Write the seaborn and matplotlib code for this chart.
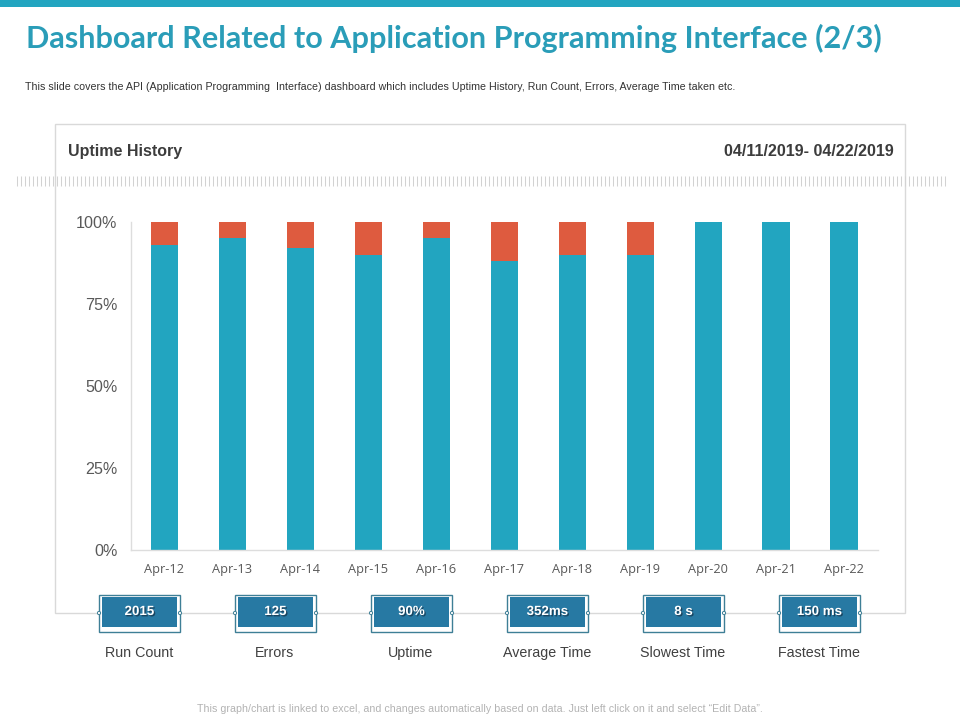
import numpy as np
import pandas as pd
import matplotlib
matplotlib.use("Agg")
import matplotlib.pyplot as plt
from matplotlib.patches import Rectangle, Circle
import matplotlib.patheffects as pe
import seaborn as sns

days = ["Apr-12", "Apr-13", "Apr-14", "Apr-15", "Apr-16", "Apr-17", "Apr-18", "Apr-19", "Apr-20", "Apr-21", "Apr-22"]
uptime = [93, 95, 92, 90, 95, 88, 90, 90, 100, 100, 100]
errors = [7, 5, 8, 10, 5, 12, 10, 10, 0, 0, 0]
y_ticks = [0, 25, 50, 75, 100]
kpi_values = ["2015", "125", "90%", "352ms", "8 s", "150 ms"]
kpi_names = ["Run Count", "Errors", "Uptime", "Average Time", "Slowest Time", "Fastest Time"]

TEAL = "#22A5C0"
RED = "#DE5B3F"
BOX = "#2779A3"
W, H = 960, 720

sns.set_theme(style="white")
plt.rcParams["font.family"] = ["Liberation Sans", "DejaVu Sans"]

fig = plt.figure(figsize=(9.6, 7.2), dpi=100, facecolor="white")

# page layer in pixel coordinates
bg = fig.add_axes([0, 0, 1, 1], zorder=0)
bg.set_xlim(0, W); bg.set_ylim(H, 0); bg.axis("off")

bg.add_patch(Rectangle((0, 0), W, 7, fc=TEAL, ec="none"))
bg.text(26, 38, "Dashboard Related to Application Programming Interface (2/3)",
        fontsize=22.05, family="Lato", fontweight="bold", color="#2A9DB8", va="center", ha="left")
bg.text(25, 86.5, "This slide covers the API (Application Programming  Interface) dashboard which includes Uptime History, Run Count, Errors, Average Time taken etc.",
        fontsize=7.65, color="#333333", va="center", ha="left")

# card frame
bg.add_patch(Rectangle((55, 124), 850, 489, fc="none", ec="#D9D9D9", lw=1))
bg.text(68, 151.5, "Uptime History", fontsize=11.5, fontweight="bold", color="#3C3C3C", va="center")
bg.text(894, 151.5, "04/11/2019- 04/22/2019", fontsize=11.5, fontweight="bold", color="#3C3C3C", va="center", ha="right")

# hatched divider
bg.vlines(np.arange(16.5, 946, 4), 176, 186, color="#D2D2D2", lw=0.75)

# chart
x0, x1, ytop, ybot = 130.5, 878, 222, 550
ax = fig.add_axes([x0 / W, 1 - ybot / H, (x1 - x0) / W, (ybot - ytop) / H], zorder=2)
ax.patch.set_alpha(0)
df = pd.DataFrame({"day": days, "uptime": uptime, "errors": errors})
df["total"] = df["uptime"] + df["errors"]
sns.barplot(data=df, x="day", y="total", color=RED, width=0.4, saturation=1, ax=ax, errorbar=None, linewidth=0)
sns.barplot(data=df, x="day", y="uptime", color=TEAL, width=0.4, saturation=1, ax=ax, errorbar=None, linewidth=0)
ax.set_xlim(-0.5, len(days) - 0.5)
ax.set_ylim(0, 100)
ax.set_xlabel(""); ax.set_ylabel("")
ax.set_yticks(y_ticks)
ax.set_yticklabels([f"{v}%" for v in y_ticks], fontsize=11.6, color="#595959")
ax.tick_params(axis="x", length=0, pad=9)
ax.tick_params(axis="y", length=0, pad=9.5)
for t in ax.get_xticklabels():
    t.set_fontsize(9.2); t.set_fontfamily("Open Sans"); t.set_color("#595959")
for s in ("top", "right"):
    ax.spines[s].set_visible(False)
for s in ("left", "bottom"):
    ax.spines[s].set_color("#DDDDDD"); ax.spines[s].set_linewidth(1)

# KPI boxes
centers = [139, 275, 411, 547, 683, 819]
top = fig.add_axes([0, 0, 1, 1], zorder=3)
top.set_xlim(0, W); top.set_ylim(H, 0); top.axis("off")
for c, v, n in zip(centers, kpi_values, kpi_names):
    top.add_patch(Rectangle((c - 40, 594.5), 81, 37, fc="white", ec="#3E7F96", lw=1))
    top.add_patch(Rectangle((c - 37, 597), 74.5, 30, fc=BOX, ec="none"))
    for sx in (c - 40, c + 41):
        top.add_patch(Circle((sx, 613), 1.6, fc="white", ec="#3E7F96", lw=0.7, zorder=4))
    top.text(c + 0.5, 612, v, fontsize=9.6, fontweight="bold", color="white", ha="center", va="center",
             path_effects=[pe.withSimplePatchShadow(offset=(1, -1), shadow_rgbFace="#123", alpha=0.6)])
    top.text(c, 653, n, fontsize=10.3, color="#404040", ha="center", va="center")

bg.text(480, 709, "This graph/chart is linked to excel, and changes automatically based on data. Just left click on it and select \u201cEdit Data\u201d.",
        fontsize=7.64, color="#B3B3B3", ha="center", va="center")

fig.savefig("out.png", dpi=100)
